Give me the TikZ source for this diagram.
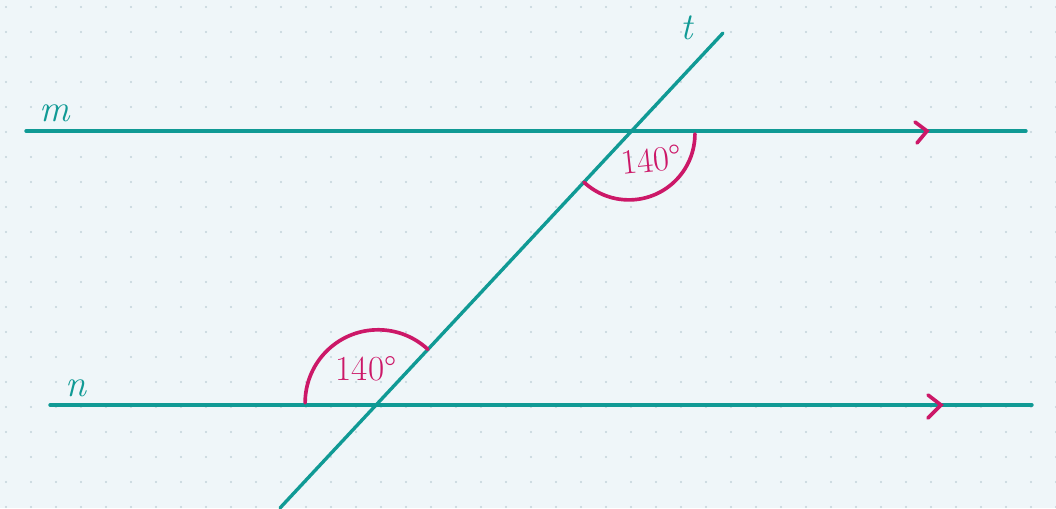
\documentclass[tikz,border=0pt]{standalone}
\usetikzlibrary{calc}
\usepackage{textcomp}
\definecolor{paper}{HTML}{EFF6F9}
\definecolor{griddot}{HTML}{C3D3DA}
\definecolor{teal}{HTML}{109A95}
\definecolor{pen}{HTML}{CC1868}
\tikzset{
	line/.style={teal, line width=2.4pt, line cap=round},
	anglearc/.style={pen, line width=2.6pt, line cap=round},
	anglelabel/.style={pen, font=\fontsize{25}{25}\selectfont},
	linelabel/.style={teal, font=\fontsize{27}{27}\selectfont\itshape}
}
\begin{document}
	\begin{tikzpicture}[x=0.025cm,y=0.025cm]
		\fill[paper] (0,0) rectangle (1056,508);
		\useasboundingbox (0,0) rectangle (1056,508);
		\foreach \i in {0,...,42}
		\foreach \j in {0,...,20}
		\fill[griddot] (6+25*\i,1+25*\j) circle (1.1);
		
		\coordinate (mL) at (26,377);
		\coordinate (mR) at (1026,377);
		\coordinate (nL) at (50,103);
		\coordinate (nR) at (1032,103);
		\coordinate (tB) at (280,0);
		\coordinate (tT) at (723,475);
		\coordinate (A) at (intersection of mL--mR and tB--tT);
		\coordinate (B) at (intersection of nL--nR and tB--tT);
		
		\draw[line] (mL) -- (mR);
		\draw[line] (nL) -- (nR);
		\draw[line] (tB) -- (tT);
		
		% angle marks
		\draw[anglearc] ($(A)+(227:70)$) arc[start angle=227, end angle=360, radius=66];
		\draw[anglearc] ($(B)+(47:76)$) arc[start angle=47, end angle=180, radius=73];
		\node[anglelabel, rotate=6] (angA) at (651,348) {140\textdegree};
		\node[anglelabel] (angB) at (366,139) {140\textdegree};
		
		% parallel marks
		\draw[anglearc] (915,386) -- (927,377) -- (917,365);
		\draw[anglearc] (928,113) -- (941,103) -- (928,90);
		
		\node[linelabel] (labm) at (55,395) {m};
		\node[linelabel] (labn) at (76,120) {n};
		\node[linelabel] (labt) at (687,480) {t};
	\end{tikzpicture}
\end{document}
